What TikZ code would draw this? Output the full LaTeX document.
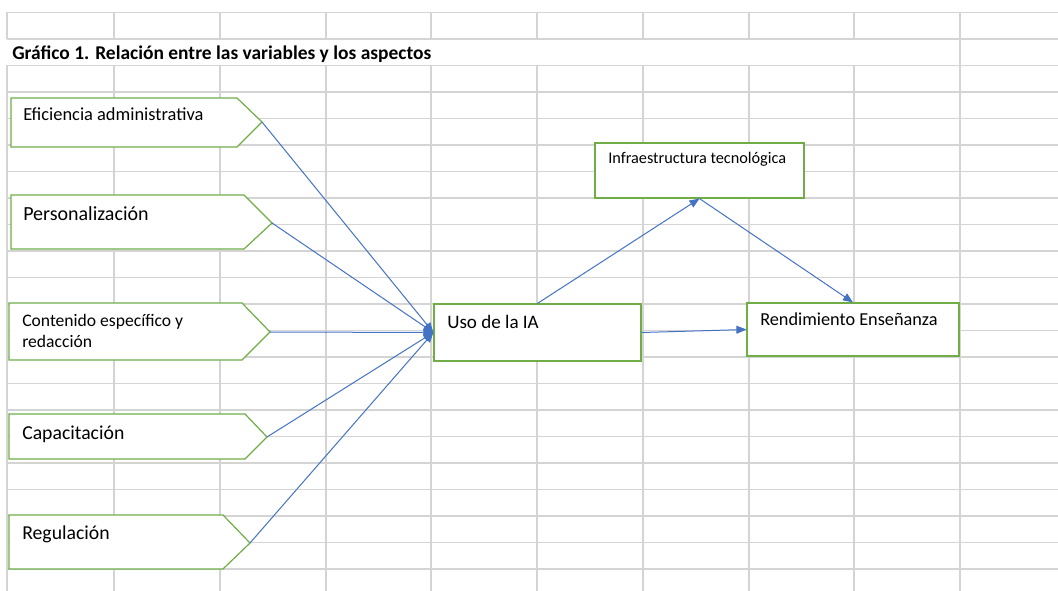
\documentclass[tikz,border=0pt]{standalone}
\usepackage{fontspec}
\setmainfont{Carlito}
\usetikzlibrary{arrows.meta}
\definecolor{gridc}{RGB}{212,212,212}
\definecolor{offgreen}{RGB}{112,173,71}
\definecolor{offblue}{RGB}{68,114,196}
\newcommand{\fs}[1]{\fontsize{#1}{#1}\selectfont}
\begin{document}
\begin{tikzpicture}[x=0.75pt,y=-0.75pt,
 gridline/.style={draw=gridc,line width=1.4pt},
 pent/.style={draw=offgreen,fill=white,line width=0.9pt},
 box/.style={draw=offgreen,fill=white,line width=0.9pt,inner sep=0pt},
 lbl/.style={anchor=base west,inner sep=0pt,text=black},
 conn/.style={draw=offblue,line width=0.75pt,-{Triangle[length=7.5pt,width=6pt]}},
]
\useasboundingbox (0,0) rectangle (1058,591);
\fill[white] (0,0) rectangle (1058,591);
% grid
\foreach \k in {0,...,21} { \draw[gridline] (7,{12.5+26.5*\k}) -- (1058,{12.5+26.5*\k}); }
\foreach \x in {7,114,220,326,431,537,643,749,854,960} {
  \draw[gridline] (\x,12.5) -- (\x,39);
  \draw[gridline] (\x,65.5) -- (\x,591);
}
\draw[gridline] (960,39) -- (960,65.5);
% title
\node[lbl,font=\bfseries\fs{14.6}] (title) at (12,60) {Gráfico 1. Relación entre las variables y los aspectos};
% pentagons
\draw[pent] (11,98) -- (237,98) -- (262,122) -- (237,147) -- (11,147) -- cycle;
\coordinate (p1) at (262,122);
\draw[pent] (11,195) -- (244,195) -- (272,223) -- (244,249) -- (11,249) -- cycle;
\coordinate (p2) at (272,223);
\draw[pent] (9,303) -- (242,303) -- (270,332) -- (242,360) -- (9,360) -- cycle;
\coordinate (p3) at (270,332);
\draw[pent] (9,414) -- (245,414) -- (267,437) -- (245,459) -- (9,459) -- cycle;
\coordinate (p4) at (267,437);
\draw[pent] (9,515) -- (223,515) -- (250,543) -- (223,569) -- (9,569) -- cycle;
\coordinate (p5) at (250,543);
\node[lbl,font=\fs{13.8}] (t1) at (23,120.5) {Eficiencia administrativa};
\node[lbl,font=\fs{15}] (t2) at (23,220.5) {Personalización};
\node[lbl,font=\fs{13.2}] (t3a) at (22,326.5) {Contenido específico y};
\node[lbl,font=\fs{13.2}] (t3b) at (22,347.5) {redacción};
\node[lbl,font=\fs{14.8}] (t4) at (22,439.3) {Capacitación};
\node[lbl,font=\fs{14.8}] (t5) at (22,539.3) {Regulación};
% boxes
\node[box,minimum width=155.25pt,minimum height=42.75pt] (uso) at (537.5,332.5) {};
\node[box,minimum width=159pt,minimum height=39.75pt] (rend) at (853,329.5) {};
\node[box,minimum width=156.75pt,minimum height=41.25pt] (infra) at (699.5,170.5) {};
\node[lbl,font=\fs{14.3}] (tu) at (447,329) {Uso de la IA};
\node[lbl,font=\fs{13.7}] (tr) at (760,326) {Rendimiento Enseñanza};
\node[lbl,font=\fs{12.2}] (ti) at (608,163.3) {Infraestructura tecnológica};
% connectors
\foreach \p in {p1,p2,p3,p4,p5} { \draw[conn] (\p) -- (uso.west); }
\draw[conn] (uso.north) -- (infra.south);
\draw[conn] (infra.south) -- (rend.north);
\draw[conn] (uso.east) -- (rend.west);
\end{tikzpicture}
\end{document}
